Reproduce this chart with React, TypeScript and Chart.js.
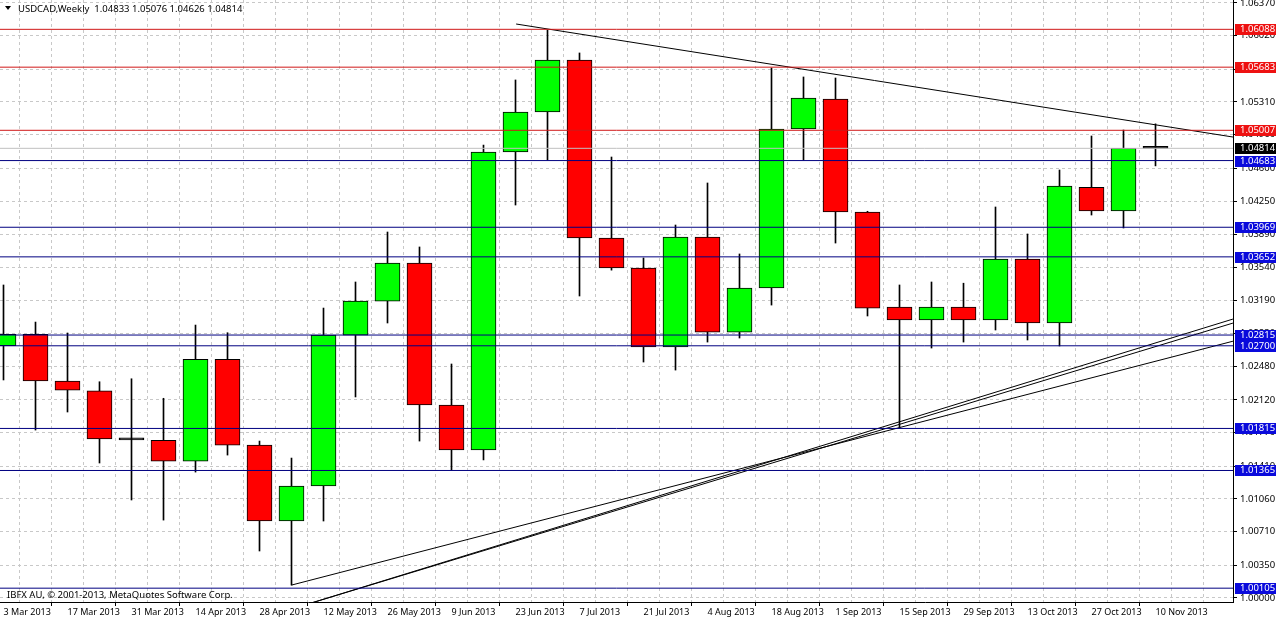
import React, { useEffect, useRef } from 'react';
import { Chart, registerables } from 'chart.js';

Chart.register(...registerables);

// ---------- data ----------
const weekLabels = [
  '3 Mar 2013', '10 Mar 2013', '17 Mar 2013', '24 Mar 2013', '31 Mar 2013', '7 Apr 2013',
  '14 Apr 2013', '21 Apr 2013', '28 Apr 2013', '5 May 2013', '12 May 2013', '19 May 2013',
  '26 May 2013', '2 Jun 2013', '9 Jun 2013', '16 Jun 2013', '23 Jun 2013', '30 Jun 2013',
  '7 Jul 2013', '14 Jul 2013', '21 Jul 2013', '28 Jul 2013', '4 Aug 2013', '11 Aug 2013',
  '18 Aug 2013', '25 Aug 2013', '1 Sep 2013', '8 Sep 2013', '15 Sep 2013', '22 Sep 2013',
  '29 Sep 2013', '6 Oct 2013', '13 Oct 2013', '20 Oct 2013', '27 Oct 2013', '3 Nov 2013',
  '10 Nov 2013',
];

const opens = [
  1.02701, 1.02823, 1.02323, 1.02219, 1.01697, 1.01688, 1.01466, 1.02555, 1.01637, 1.00824,
  1.01199, 1.02815, 1.03179, 1.03586, 1.02066, 1.01584, 1.04775, 1.05203, 1.05760, 1.03854,
  1.03533, 1.02687, 1.03865, 1.02847, 1.03319, 1.05021, 1.05342, 1.04132, 1.03115, 1.02976,
  1.03115, 1.02976, 1.03629, 1.02944, 1.04397, 1.04143, 1.04833,
];
const highs = [
  1.03351, 1.02954, 1.02837, 1.02315, 1.02347, 1.02138, 1.02922, 1.02840, 1.01680, 1.01498,
  1.03104, 1.03383, 1.03918, 1.03758, 1.02505, 1.04850, 1.05546, 1.06081, 1.05835, 1.04721,
  1.03640, 1.03993, 1.04443, 1.03683, 1.05674, 1.05578, 1.05567, 1.04140, 1.03351, 1.03383,
  1.03370, 1.04186, 1.03897, 1.04582, 1.04946, 1.05010, 1.05076,
];
const lows = [
  1.02334, 1.01798, 1.01991, 1.01445, 1.01049, 1.00834, 1.01348, 1.01530, 1.00503, 1.00138,
  1.00824, 1.02152, 1.02944, 1.01680, 1.01370, 1.01477, 1.04207, 1.04689, 1.03233, 1.03510,
  1.02526, 1.02440, 1.02740, 1.02783, 1.03136, 1.04689, 1.03800, 1.03019, 1.01820, 1.02676,
  1.02740, 1.02869, 1.02762, 1.02698, 1.04100, 1.03961, 1.04626,
];
const closes = [
  1.02823, 1.02323, 1.02226, 1.01702, 1.01693, 1.01466, 1.02555, 1.01637, 1.00824, 1.01199,
  1.02815, 1.03179, 1.03586, 1.02066, 1.01584, 1.04775, 1.05203, 1.05760, 1.03854, 1.03533,
  1.02687, 1.03865, 1.02847, 1.03319, 1.05021, 1.05353, 1.04132, 1.03104, 1.02976, 1.03115,
  1.02976, 1.03629, 1.02944, 1.04411, 1.04143, 1.04814, 1.04814,
];

const resistanceLevels = [1.06088, 1.05683, 1.05007];
const supportLevels = [1.04683, 1.03969, 1.03652, 1.02815, 1.027, 1.01815, 1.01365, 1.00105];
const bidPrice = 1.04814;

const yTickValues = [
  1.0637, 1.0602, 1.0566, 1.0531, 1.0496, 1.046, 1.0425, 1.0389, 1.0354, 1.0319,
  1.0283, 1.0248, 1.0212, 1.0177, 1.0141, 1.0106, 1.0071, 1.0035, 1.0,
];

// trend lines: [start week index, start price] -> [end week index, end price]
const trendStartIdx = [16.02, 9.0, 9.52, 9.52];
const trendStartPrice = [1.06145, 1.00138, 0.99936, 0.99936];
const trendEndIdx = [38.42, 38.42, 38.42, 38.42];
const trendEndPrice = [1.04935, 1.02749, 1.02986, 1.02943];

const symbolTitle = 'USDCAD,Weekly';
const copyrightText = 'IBFX AU, \u00A9 2001-2013, MetaQuotes Software Corp.';

// axis ranges
const X_MIN = -0.109375;
const X_MAX = 38.421875;
const Y_MIN = 0.99957;
const Y_MAX = 1.06402;

const FONT = '"Noto Sans", "DejaVu Sans", sans-serif';

export default function App() {
  const ref = useRef<HTMLCanvasElement | null>(null);

  useEffect(() => {
    document.body.style.margin = '0';
    const canvas = ref.current;
    if (!canvas) return;
    const last = opens.length - 1;

    const bodyColors = opens.map((o, i) => {
      const c = closes[i];
      if (Math.abs(c - o) < 0.0003) return '#000000';
      return c >= o ? '#00FF00' : '#FF0000';
    });

    const levelDataset = (v: number, color: string) => ({
      type: 'line' as const,
      data: [{ x: X_MIN, y: v }, { x: X_MAX, y: v }],
      borderColor: color,
      borderWidth: 1,
      pointRadius: 0,
      fill: false,
      tension: 0,
      order: 0,
    });

    const datasets: any[] = [];
    datasets.push(levelDataset(bidPrice, '#C0C0C0'));
    resistanceLevels.forEach((v) => datasets.push(levelDataset(v, '#D01818')));
    supportLevels.forEach((v) => datasets.push(levelDataset(v, '#000080')));
    trendStartIdx.forEach((sx, i) =>
      datasets.push({
        type: 'line',
        data: [
          { x: sx, y: trendStartPrice[i] },
          { x: trendEndIdx[i], y: trendEndPrice[i] },
        ],
        borderColor: '#000000',
        borderWidth: 1,
        pointRadius: 0,
        fill: false,
        tension: 0,
        order: 0,
      })
    );
    datasets.push({
      type: 'bar',
      data: opens.map((o, i) => ({ x: i, y: [o, closes[i]] })),
      backgroundColor: bodyColors,
      borderColor: '#000000',
      borderWidth: 1,
      borderSkipped: false,
      barThickness: 25,
      minBarLength: 2,
      grouped: false,
      order: 1,
    });
    datasets.push({
      type: 'bar',
      data: lows.map((l, i) => ({ x: i, y: [l, highs[i]] })),
      backgroundColor: '#000000',
      borderWidth: 0,
      barThickness: 1,
      grouped: false,
      order: 2,
    });

    const overlay = {
      id: 'mtOverlay',
      afterDraw(chart: any) {
        const ctx = chart.ctx as CanvasRenderingContext2D;
        const ys = chart.scales.y;
        const area = chart.chartArea;
        ctx.save();
        // price labels on the right axis
        const box = (v: number, bg: string) => {
          const py = Math.round(ys.getPixelForValue(v));
          ctx.fillStyle = bg;
          ctx.fillRect(area.right + 2, py - 5, chart.width - area.right - 2, 11);
          ctx.fillStyle = '#FFFFFF';
          ctx.font = `9.5px ${FONT}`;
          ctx.textBaseline = 'middle';
          ctx.textAlign = 'left';
          ctx.fillText(v.toFixed(5), area.right + 7, py + 0.5);
        };
        resistanceLevels.forEach((v) => box(v, '#EE1111'));
        supportLevels.forEach((v) => box(v, '#0A0ADC'));
        box(bidPrice, '#000000');

        // header
        ctx.fillStyle = '#000000';
        ctx.beginPath();
        ctx.moveTo(5, 6);
        ctx.lineTo(11, 6);
        ctx.lineTo(8, 10);
        ctx.closePath();
        ctx.fill();
        ctx.font = `9.5px ${FONT}`;
        ctx.textBaseline = 'alphabetic';
        ctx.textAlign = 'left';
        const hdr = `${symbolTitle}  ${opens[last].toFixed(5)} ${highs[last].toFixed(5)} ${lows[last].toFixed(5)} ${closes[last].toFixed(5)}`;
        ctx.fillText(hdr, 18, 12);

        // copyright
        ctx.font = `9.5px ${FONT}`;
        ctx.fillText(copyrightText, 7, 598);
        ctx.restore();
      },
    };

    const isLabelTick = (v: number) => Number.isInteger(v) && v % 2 === 0 && v >= 0 && v < weekLabels.length;

    const chart = new Chart(canvas, {
      type: 'bar',
      data: { datasets },
      options: {
        animation: false,
        responsive: false,
        maintainAspectRatio: false,
        events: [],
        layout: { padding: 0 },
        plugins: {
          legend: { display: false },
          tooltip: { enabled: false },
          title: { display: false },
        },
        scales: {
          x: {
            type: 'linear',
            min: X_MIN,
            max: X_MAX,
            offset: false,
            position: 'bottom',
            afterBuildTicks: (s: any) => {
              const t = [];
              for (let i = 0; i <= Math.floor(X_MAX); i++) t.push({ value: i });
              s.ticks = t;
            },
            afterFit: (s: any) => {
              s.height = 17;
              s.paddingLeft = 0;
              s.paddingRight = 0;
            },
            grid: {
              color: '#C8C8C8',
              lineWidth: 1,
              drawTicks: true,
              tickLength: 4,
              tickWidth: 1,
              tickColor: (c: any) => (c.tick && isLabelTick(c.tick.value) ? '#000000' : 'rgba(0,0,0,0)'),
            },
            border: { display: true, color: '#000000', width: 1, dash: [3, 3] },
            ticks: {
              autoSkip: false,
              maxRotation: 0,
              minRotation: 0,
              align: 'start',
              padding: 1,
              color: '#000000',
              font: { family: FONT, size: 9 },
              callback: (v: any) => (isLabelTick(Number(v)) ? weekLabels[Number(v)] : ''),
            },
          },
          y: {
            type: 'linear',
            position: 'right',
            min: Y_MIN,
            max: Y_MAX,
            afterBuildTicks: (s: any) => {
              s.ticks = yTickValues.map((v) => ({ value: v }));
            },
            afterFit: (s: any) => {
              s.width = 43;
              s.paddingTop = 0;
              s.paddingBottom = 0;
            },
            grid: {
              color: '#C8C8C8',
              lineWidth: 1,
              drawTicks: true,
              tickLength: 4,
              tickColor: '#000000',
            },
            border: { display: true, color: '#000000', width: 1, dash: [3, 3] },
            ticks: {
              autoSkip: false,
              padding: 3,
              color: '#000000',
              font: { family: FONT, size: 9.5 },
              callback: (v: any) => Number(v).toFixed(5),
            },
          },
        },
      },
      plugins: [overlay],
    } as any);

    return () => chart.destroy();
  }, []);

  return (
    <div style={{ width: 1276, height: 619, background: '#FFFFFF' }}>
      <canvas ref={ref} width={1276} height={619} style={{ display: 'block', width: 1276, height: 619 }} />
    </div>
  );
}
